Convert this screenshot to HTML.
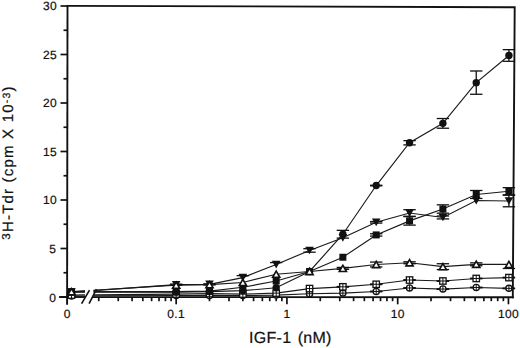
<!DOCTYPE html><html><head><meta charset="utf-8"><style>html,body{margin:0;padding:0;background:#fff;width:520px;height:348px;overflow:hidden}svg{display:block}text{font-family:"Liberation Sans",sans-serif;fill:#111;stroke:#111;stroke-width:0.22px;text-rendering:geometricPrecision}</style></head><body>
<svg width="520" height="348" viewBox="0 0 520 348">
<rect width="520" height="348" fill="#fff"/>
<g stroke="#111" stroke-width="1.9" fill="none" stroke-linecap="square">
<path d="M67.9 5.85 L514.7 7.2 L512.8 297.2"/>
<path d="M67.5 5.85 L67.1 303.7"/>
<path d="M60 297 L84 297"/>
<path d="M93.5 297.1 L512.8 297.2"/>
</g>
<g stroke="#111" stroke-width="1.7">
<line x1="60.5" y1="297.00" x2="67" y2="297.00"/>
<line x1="60.5" y1="248.50" x2="67" y2="248.50"/>
<line x1="60.5" y1="200.00" x2="67" y2="200.00"/>
<line x1="60.5" y1="151.50" x2="67" y2="151.50"/>
<line x1="60.5" y1="103.00" x2="67" y2="103.00"/>
<line x1="60.5" y1="54.50" x2="67" y2="54.50"/>
<line x1="60.5" y1="6.00" x2="67" y2="6.00"/>
<line x1="63.5" y1="272.75" x2="67" y2="272.75"/>
<line x1="63.5" y1="224.25" x2="67" y2="224.25"/>
<line x1="63.5" y1="175.75" x2="67" y2="175.75"/>
<line x1="63.5" y1="127.25" x2="67" y2="127.25"/>
<line x1="63.5" y1="78.75" x2="67" y2="78.75"/>
<line x1="63.5" y1="30.25" x2="67" y2="30.25"/>
<line x1="176.16" y1="297" x2="176.16" y2="304.3"/>
<line x1="286.92" y1="297" x2="286.92" y2="304.3"/>
<line x1="397.68" y1="297" x2="397.68" y2="304.3"/>
<line x1="508.44" y1="297" x2="508.44" y2="304.3"/>
<line x1="98.74" y1="297" x2="98.74" y2="301.2"/>
<line x1="118.25" y1="297" x2="118.25" y2="301.2"/>
<line x1="132.08" y1="297" x2="132.08" y2="301.2"/>
<line x1="142.82" y1="297" x2="142.82" y2="301.2"/>
<line x1="151.59" y1="297" x2="151.59" y2="301.2"/>
<line x1="159.00" y1="297" x2="159.00" y2="301.2"/>
<line x1="165.43" y1="297" x2="165.43" y2="301.2"/>
<line x1="171.09" y1="297" x2="171.09" y2="301.2"/>
<line x1="209.50" y1="297" x2="209.50" y2="301.2"/>
<line x1="229.01" y1="297" x2="229.01" y2="301.2"/>
<line x1="242.84" y1="297" x2="242.84" y2="301.2"/>
<line x1="253.58" y1="297" x2="253.58" y2="301.2"/>
<line x1="262.35" y1="297" x2="262.35" y2="301.2"/>
<line x1="269.76" y1="297" x2="269.76" y2="301.2"/>
<line x1="276.19" y1="297" x2="276.19" y2="301.2"/>
<line x1="281.85" y1="297" x2="281.85" y2="301.2"/>
<line x1="320.26" y1="297" x2="320.26" y2="301.2"/>
<line x1="339.77" y1="297" x2="339.77" y2="301.2"/>
<line x1="353.60" y1="297" x2="353.60" y2="301.2"/>
<line x1="364.34" y1="297" x2="364.34" y2="301.2"/>
<line x1="373.11" y1="297" x2="373.11" y2="301.2"/>
<line x1="380.52" y1="297" x2="380.52" y2="301.2"/>
<line x1="386.95" y1="297" x2="386.95" y2="301.2"/>
<line x1="392.61" y1="297" x2="392.61" y2="301.2"/>
<line x1="431.02" y1="297" x2="431.02" y2="301.2"/>
<line x1="450.53" y1="297" x2="450.53" y2="301.2"/>
<line x1="464.36" y1="297" x2="464.36" y2="301.2"/>
<line x1="475.10" y1="297" x2="475.10" y2="301.2"/>
<line x1="483.87" y1="297" x2="483.87" y2="301.2"/>
<line x1="491.28" y1="297" x2="491.28" y2="301.2"/>
<line x1="497.71" y1="297" x2="497.71" y2="301.2"/>
<line x1="503.37" y1="297" x2="503.37" y2="301.2"/>
</g>
<g stroke="#111" stroke-width="1.6"><line x1="81.6" y1="303.7" x2="89.5" y2="290.2"/><line x1="89.1" y1="303.7" x2="96.5" y2="289.2"/></g>
<g font-size="12" letter-spacing="0.3" text-anchor="end">
<text x="56.3" y="301.60">0</text>
<text x="56.3" y="252.70">5</text>
<text x="57.0" y="204.20">10</text>
<text x="57.0" y="155.70">15</text>
<text x="57.0" y="107.20">20</text>
<text x="57.0" y="58.70">25</text>
<text x="57.0" y="10.20">30</text>
</g>
<g font-size="12" letter-spacing="0.3" text-anchor="middle">
<text x="67.20" y="318.1">0</text>
<text x="176.16" y="318.1">0.1</text>
<text x="286.92" y="318.1">1</text>
<text x="397.68" y="318.1">10</text>
<text x="508.44" y="318.1">100</text>
</g>
<text x="249.0" y="343.2" font-size="16" letter-spacing="0.3" word-spacing="1.5">IGF-1 (nM)</text>
<text transform="translate(12.9 239.7) rotate(-90)" font-size="15" letter-spacing="1.2"><tspan font-size="11.5" dy="-3.2">3</tspan><tspan dy="3.2">H-Tdr (cpm X 10</tspan><tspan font-size="10.5" dy="-3.4">-3</tspan><tspan dy="3.4">)</tspan></text>
<g stroke="#1a1a1a" stroke-width="1.15" fill="none">
<path d="M71.50 292.15 L85 292.15 M93.5 292.15 L176.16 292.15"/>
<path d="M176.16 292.15 L209.50 291.67 L242.84 290.69 L276.19 287.79 L309.53 271.49 L342.87 234.24 L376.21 185.55 L409.55 142.77 L442.90 123.37 L476.24 82.63 L508.92 55.47"/>
<path d="M71.50 291.67 L85 291.67 M93.5 291.67 L176.16 291.67"/>
<path d="M176.16 291.67 L209.50 291.18 L242.84 287.30 L276.19 281.00 L309.53 271.49 L342.87 257.23 L376.21 234.92 L409.55 220.86 L442.90 209.02 L476.24 194.47 L508.92 191.27"/>
<path d="M71.50 292.15 L85 291.19 M93.5 290.58 L176.16 284.68"/>
<path d="M176.16 284.68 L209.50 284.39 L242.84 277.60 L276.19 264.50 L309.53 250.44 L342.87 237.83 L376.21 222.31 L409.55 213.00 L442.90 217.46 L476.24 200.49 L508.92 200.97"/>
<path d="M71.50 291.67 L85 290.83 M93.5 290.30 L176.16 285.17"/>
<path d="M176.16 285.17 L209.50 284.68 L242.84 282.45 L276.19 274.20 L309.53 271.49 L342.87 268.38 L376.21 264.50 L409.55 262.76 L442.90 266.64 L476.24 264.31 L508.92 264.41"/>
<path d="M71.50 295.06 L85 294.93 M93.5 294.86 L176.16 294.09"/>
<path d="M176.16 294.09 L209.50 293.61 L242.84 294.09 L276.19 293.12 L309.53 288.56 L342.87 286.81 L376.21 284.29 L409.55 280.02 L442.90 281.00 L476.24 278.47 L508.92 277.60"/>
<path d="M71.50 296.03 L85 295.97 M93.5 295.93 L176.16 295.55"/>
<path d="M176.16 295.55 L209.50 295.55 L242.84 295.55 L276.19 295.06 L309.53 293.70 L342.87 293.12 L376.21 291.47 L409.55 287.98 L442.90 289.05 L476.24 287.49 L508.92 288.37"/>
</g>
<g stroke="#111" stroke-width="1.3">
<line x1="508.92" y1="49.65" x2="508.92" y2="61.29"/>
<line x1="502.72" y1="49.65" x2="515.12" y2="49.65"/>
<line x1="502.72" y1="61.29" x2="515.12" y2="61.29"/>
<line x1="476.24" y1="70.99" x2="476.24" y2="94.27"/>
<line x1="470.04" y1="70.99" x2="482.44" y2="70.99"/>
<line x1="470.04" y1="94.27" x2="482.44" y2="94.27"/>
<line x1="442.90" y1="118.52" x2="442.90" y2="128.22"/>
<line x1="436.70" y1="118.52" x2="449.10" y2="118.52"/>
<line x1="436.70" y1="128.22" x2="449.10" y2="128.22"/>
<line x1="409.55" y1="140.64" x2="409.55" y2="144.90"/>
<line x1="403.35" y1="140.64" x2="415.75" y2="140.64"/>
<line x1="403.35" y1="144.90" x2="415.75" y2="144.90"/>
<line x1="376.21" y1="185.26" x2="376.21" y2="185.84"/>
<line x1="370.01" y1="185.26" x2="382.41" y2="185.26"/>
<line x1="370.01" y1="185.84" x2="382.41" y2="185.84"/>
<line x1="342.87" y1="230.36" x2="342.87" y2="238.12"/>
<line x1="336.67" y1="230.36" x2="349.07" y2="230.36"/>
<line x1="336.67" y1="238.12" x2="349.07" y2="238.12"/>
<line x1="508.92" y1="187.68" x2="508.92" y2="194.86"/>
<line x1="502.72" y1="187.68" x2="515.12" y2="187.68"/>
<line x1="502.72" y1="194.86" x2="515.12" y2="194.86"/>
<line x1="476.24" y1="190.49" x2="476.24" y2="198.45"/>
<line x1="470.04" y1="190.49" x2="482.44" y2="190.49"/>
<line x1="470.04" y1="198.45" x2="482.44" y2="198.45"/>
<line x1="442.90" y1="204.85" x2="442.90" y2="213.19"/>
<line x1="436.70" y1="204.85" x2="449.10" y2="204.85"/>
<line x1="436.70" y1="213.19" x2="449.10" y2="213.19"/>
<line x1="409.55" y1="216.59" x2="409.55" y2="225.12"/>
<line x1="403.35" y1="216.59" x2="415.75" y2="216.59"/>
<line x1="403.35" y1="225.12" x2="415.75" y2="225.12"/>
<line x1="376.21" y1="233.76" x2="376.21" y2="236.08"/>
<line x1="370.01" y1="233.76" x2="382.41" y2="233.76"/>
<line x1="370.01" y1="236.08" x2="382.41" y2="236.08"/>
<line x1="508.92" y1="195.15" x2="508.92" y2="206.79"/>
<line x1="502.72" y1="195.15" x2="515.12" y2="195.15"/>
<line x1="502.72" y1="206.79" x2="515.12" y2="206.79"/>
<line x1="442.90" y1="216.00" x2="442.90" y2="218.92"/>
<line x1="436.70" y1="216.00" x2="449.10" y2="216.00"/>
<line x1="436.70" y1="218.92" x2="449.10" y2="218.92"/>
<line x1="176.16" y1="284.10" x2="176.16" y2="285.26"/>
<line x1="169.96" y1="284.10" x2="182.36" y2="284.10"/>
<line x1="169.96" y1="285.26" x2="182.36" y2="285.26"/>
<line x1="209.50" y1="283.81" x2="209.50" y2="284.97"/>
<line x1="203.30" y1="283.81" x2="215.70" y2="283.81"/>
<line x1="203.30" y1="284.97" x2="215.70" y2="284.97"/>
<line x1="242.84" y1="275.66" x2="242.84" y2="277.60"/>
<line x1="236.64" y1="275.66" x2="249.04" y2="275.66"/>
<line x1="276.19" y1="262.56" x2="276.19" y2="264.50"/>
<line x1="269.99" y1="262.56" x2="282.39" y2="262.56"/>
<line x1="409.55" y1="209.70" x2="409.55" y2="216.30"/>
<line x1="403.35" y1="209.70" x2="415.75" y2="209.70"/>
<line x1="403.35" y1="216.30" x2="415.75" y2="216.30"/>
<line x1="376.21" y1="221.53" x2="376.21" y2="223.09"/>
<line x1="370.01" y1="221.53" x2="382.41" y2="221.53"/>
<line x1="370.01" y1="223.09" x2="382.41" y2="223.09"/>
<line x1="309.53" y1="248.69" x2="309.53" y2="252.19"/>
<line x1="303.33" y1="248.69" x2="315.73" y2="248.69"/>
<line x1="303.33" y1="252.19" x2="315.73" y2="252.19"/>
<line x1="376.21" y1="262.08" x2="376.21" y2="266.93"/>
<line x1="370.01" y1="262.08" x2="382.41" y2="262.08"/>
<line x1="370.01" y1="266.93" x2="382.41" y2="266.93"/>
<line x1="409.55" y1="261.79" x2="409.55" y2="263.73"/>
<line x1="403.35" y1="261.79" x2="415.75" y2="261.79"/>
<line x1="403.35" y1="263.73" x2="415.75" y2="263.73"/>
<line x1="442.90" y1="263.73" x2="442.90" y2="269.55"/>
<line x1="436.70" y1="263.73" x2="449.10" y2="263.73"/>
<line x1="436.70" y1="269.55" x2="449.10" y2="269.55"/>
<line x1="476.24" y1="262.86" x2="476.24" y2="265.77"/>
<line x1="470.04" y1="262.86" x2="482.44" y2="262.86"/>
<line x1="470.04" y1="265.77" x2="482.44" y2="265.77"/>
<line x1="508.92" y1="264.41" x2="508.92" y2="268.48"/>
<line x1="502.72" y1="268.48" x2="515.12" y2="268.48"/>
<line x1="342.87" y1="267.42" x2="342.87" y2="269.36"/>
<line x1="336.67" y1="267.42" x2="349.07" y2="267.42"/>
<line x1="336.67" y1="269.36" x2="349.07" y2="269.36"/>
<line x1="376.21" y1="284.00" x2="376.21" y2="284.58"/>
<line x1="370.01" y1="284.00" x2="382.41" y2="284.00"/>
<line x1="370.01" y1="284.58" x2="382.41" y2="284.58"/>
<line x1="409.55" y1="279.73" x2="409.55" y2="280.32"/>
<line x1="403.35" y1="279.73" x2="415.75" y2="279.73"/>
<line x1="403.35" y1="280.32" x2="415.75" y2="280.32"/>
<line x1="442.90" y1="280.70" x2="442.90" y2="281.29"/>
<line x1="436.70" y1="280.70" x2="449.10" y2="280.70"/>
<line x1="436.70" y1="281.29" x2="449.10" y2="281.29"/>
<line x1="476.24" y1="278.18" x2="476.24" y2="278.76"/>
<line x1="470.04" y1="278.18" x2="482.44" y2="278.18"/>
<line x1="470.04" y1="278.76" x2="482.44" y2="278.76"/>
<line x1="508.92" y1="277.31" x2="508.92" y2="277.89"/>
<line x1="502.72" y1="277.31" x2="515.12" y2="277.31"/>
<line x1="502.72" y1="277.89" x2="515.12" y2="277.89"/>
<line x1="342.87" y1="286.52" x2="342.87" y2="287.11"/>
<line x1="336.67" y1="286.52" x2="349.07" y2="286.52"/>
<line x1="336.67" y1="287.11" x2="349.07" y2="287.11"/>
<line x1="376.21" y1="291.18" x2="376.21" y2="291.76"/>
<line x1="370.01" y1="291.18" x2="382.41" y2="291.18"/>
<line x1="370.01" y1="291.76" x2="382.41" y2="291.76"/>
<line x1="409.55" y1="287.69" x2="409.55" y2="288.27"/>
<line x1="403.35" y1="287.69" x2="415.75" y2="287.69"/>
<line x1="403.35" y1="288.27" x2="415.75" y2="288.27"/>
<line x1="442.90" y1="288.75" x2="442.90" y2="289.34"/>
<line x1="436.70" y1="288.75" x2="449.10" y2="288.75"/>
<line x1="436.70" y1="289.34" x2="449.10" y2="289.34"/>
<line x1="476.24" y1="287.20" x2="476.24" y2="287.79"/>
<line x1="470.04" y1="287.20" x2="482.44" y2="287.20"/>
<line x1="470.04" y1="287.79" x2="482.44" y2="287.79"/>
<line x1="508.92" y1="288.08" x2="508.92" y2="288.66"/>
<line x1="502.72" y1="288.08" x2="515.12" y2="288.08"/>
<line x1="502.72" y1="288.66" x2="515.12" y2="288.66"/>
</g>
<circle cx="71.50" cy="296.03" r="3.1" fill="#fff" stroke="#111" stroke-width="1.3"/><path d="M71.50 292.93V299.13M68.40 296.03H74.60" stroke="#111" stroke-width="1"/>
<circle cx="176.16" cy="295.55" r="3.1" fill="#fff" stroke="#111" stroke-width="1.3"/><path d="M176.16 292.44V298.65M173.06 295.55H179.26" stroke="#111" stroke-width="1"/>
<circle cx="209.50" cy="295.55" r="3.1" fill="#fff" stroke="#111" stroke-width="1.3"/><path d="M209.50 292.44V298.65M206.40 295.55H212.60" stroke="#111" stroke-width="1"/>
<circle cx="242.84" cy="295.55" r="3.1" fill="#fff" stroke="#111" stroke-width="1.3"/><path d="M242.84 292.44V298.65M239.74 295.55H245.94" stroke="#111" stroke-width="1"/>
<circle cx="276.19" cy="295.06" r="3.1" fill="#fff" stroke="#111" stroke-width="1.3"/><path d="M276.19 291.96V298.16M273.09 295.06H279.29" stroke="#111" stroke-width="1"/>
<circle cx="309.53" cy="293.70" r="3.1" fill="#fff" stroke="#111" stroke-width="1.3"/><path d="M309.53 290.60V296.80M306.43 293.70H312.63" stroke="#111" stroke-width="1"/>
<circle cx="342.87" cy="293.12" r="3.1" fill="#fff" stroke="#111" stroke-width="1.3"/><path d="M342.87 290.02V296.22M339.77 293.12H345.97" stroke="#111" stroke-width="1"/>
<circle cx="376.21" cy="291.47" r="3.1" fill="#fff" stroke="#111" stroke-width="1.3"/><path d="M376.21 288.37V294.57M373.11 291.47H379.31" stroke="#111" stroke-width="1"/>
<circle cx="409.55" cy="287.98" r="3.1" fill="#fff" stroke="#111" stroke-width="1.3"/><path d="M409.55 284.88V291.08M406.45 287.98H412.65" stroke="#111" stroke-width="1"/>
<circle cx="442.90" cy="289.05" r="3.1" fill="#fff" stroke="#111" stroke-width="1.3"/><path d="M442.90 285.95V292.15M439.80 289.05H446.00" stroke="#111" stroke-width="1"/>
<circle cx="476.24" cy="287.49" r="3.1" fill="#fff" stroke="#111" stroke-width="1.3"/><path d="M476.24 284.39V290.59M473.14 287.49H479.34" stroke="#111" stroke-width="1"/>
<circle cx="508.92" cy="288.37" r="3.1" fill="#fff" stroke="#111" stroke-width="1.3"/><path d="M508.92 285.27V291.47M505.82 288.37H512.02" stroke="#111" stroke-width="1"/>
<rect x="68.30" y="291.86" width="6.4" height="6.4" fill="#fff" stroke="#111" stroke-width="1.3"/><path d="M71.50 291.86V298.26M68.30 295.06H74.70" stroke="#111" stroke-width="1"/>
<rect x="172.96" y="290.89" width="6.4" height="6.4" fill="#fff" stroke="#111" stroke-width="1.3"/><path d="M176.16 290.89V297.29M172.96 294.09H179.36" stroke="#111" stroke-width="1"/>
<rect x="206.30" y="290.41" width="6.4" height="6.4" fill="#fff" stroke="#111" stroke-width="1.3"/><path d="M209.50 290.41V296.81M206.30 293.61H212.70" stroke="#111" stroke-width="1"/>
<rect x="239.64" y="290.89" width="6.4" height="6.4" fill="#fff" stroke="#111" stroke-width="1.3"/><path d="M242.84 290.89V297.29M239.64 294.09H246.04" stroke="#111" stroke-width="1"/>
<rect x="272.99" y="289.92" width="6.4" height="6.4" fill="#fff" stroke="#111" stroke-width="1.3"/><path d="M276.19 289.92V296.32M272.99 293.12H279.39" stroke="#111" stroke-width="1"/>
<rect x="306.33" y="285.36" width="6.4" height="6.4" fill="#fff" stroke="#111" stroke-width="1.3"/><path d="M309.53 285.36V291.76M306.33 288.56H312.73" stroke="#111" stroke-width="1"/>
<rect x="339.67" y="283.62" width="6.4" height="6.4" fill="#fff" stroke="#111" stroke-width="1.3"/><path d="M342.87 283.62V290.01M339.67 286.81H346.07" stroke="#111" stroke-width="1"/>
<rect x="373.01" y="281.09" width="6.4" height="6.4" fill="#fff" stroke="#111" stroke-width="1.3"/><path d="M376.21 281.09V287.49M373.01 284.29H379.41" stroke="#111" stroke-width="1"/>
<rect x="406.35" y="276.82" width="6.4" height="6.4" fill="#fff" stroke="#111" stroke-width="1.3"/><path d="M409.55 276.82V283.22M406.35 280.02H412.75" stroke="#111" stroke-width="1"/>
<rect x="439.70" y="277.80" width="6.4" height="6.4" fill="#fff" stroke="#111" stroke-width="1.3"/><path d="M442.90 277.80V284.19M439.70 281.00H446.10" stroke="#111" stroke-width="1"/>
<rect x="473.04" y="275.27" width="6.4" height="6.4" fill="#fff" stroke="#111" stroke-width="1.3"/><path d="M476.24 275.27V281.67M473.04 278.47H479.44" stroke="#111" stroke-width="1"/>
<rect x="505.72" y="274.40" width="6.4" height="6.4" fill="#fff" stroke="#111" stroke-width="1.3"/><path d="M508.92 274.40V280.80M505.72 277.60H512.12" stroke="#111" stroke-width="1"/>
<circle cx="71.50" cy="292.15" r="3.7" fill="#111"/>
<circle cx="176.16" cy="292.15" r="3.7" fill="#111"/>
<circle cx="209.50" cy="291.67" r="3.7" fill="#111"/>
<circle cx="242.84" cy="290.69" r="3.7" fill="#111"/>
<circle cx="276.19" cy="287.79" r="3.7" fill="#111"/>
<circle cx="309.53" cy="271.49" r="3.7" fill="#111"/>
<circle cx="342.87" cy="234.24" r="3.7" fill="#111"/>
<circle cx="376.21" cy="185.55" r="3.7" fill="#111"/>
<circle cx="409.55" cy="142.77" r="3.7" fill="#111"/>
<circle cx="442.90" cy="123.37" r="3.7" fill="#111"/>
<circle cx="476.24" cy="82.63" r="3.7" fill="#111"/>
<circle cx="508.92" cy="55.47" r="3.7" fill="#111"/>
<rect x="68.00" y="288.17" width="7" height="7" fill="#111"/>
<rect x="172.66" y="288.17" width="7" height="7" fill="#111"/>
<rect x="206.00" y="287.68" width="7" height="7" fill="#111"/>
<rect x="239.34" y="283.80" width="7" height="7" fill="#111"/>
<rect x="272.69" y="277.50" width="7" height="7" fill="#111"/>
<rect x="306.03" y="267.99" width="7" height="7" fill="#111"/>
<rect x="339.37" y="253.73" width="7" height="7" fill="#111"/>
<rect x="372.71" y="231.42" width="7" height="7" fill="#111"/>
<rect x="406.05" y="217.36" width="7" height="7" fill="#111"/>
<rect x="439.40" y="205.52" width="7" height="7" fill="#111"/>
<rect x="472.74" y="190.97" width="7" height="7" fill="#111"/>
<rect x="505.42" y="187.77" width="7" height="7" fill="#111"/>
<path d="M67.20 288.35 L75.80 288.35 L71.50 296.05Z" fill="#111"/>
<path d="M171.86 280.88 L180.46 280.88 L176.16 288.58Z" fill="#111"/>
<path d="M205.20 280.59 L213.80 280.59 L209.50 288.29Z" fill="#111"/>
<path d="M238.54 273.80 L247.14 273.80 L242.84 281.50Z" fill="#111"/>
<path d="M271.89 260.70 L280.49 260.70 L276.19 268.40Z" fill="#111"/>
<path d="M305.23 246.64 L313.83 246.64 L309.53 254.34Z" fill="#111"/>
<path d="M338.57 234.03 L347.17 234.03 L342.87 241.73Z" fill="#111"/>
<path d="M371.91 218.51 L380.51 218.51 L376.21 226.21Z" fill="#111"/>
<path d="M405.25 209.20 L413.85 209.20 L409.55 216.90Z" fill="#111"/>
<path d="M438.60 213.66 L447.20 213.66 L442.90 221.36Z" fill="#111"/>
<path d="M471.94 196.69 L480.54 196.69 L476.24 204.39Z" fill="#111"/>
<path d="M504.62 197.17 L513.22 197.17 L508.92 204.87Z" fill="#111"/>
<path d="M67.90 294.77 L75.10 294.77 L71.50 288.56Z" fill="#fff" stroke="#111" stroke-width="1.6" stroke-linejoin="miter"/>
<path d="M172.56 288.27 L179.76 288.27 L176.16 282.07Z" fill="#fff" stroke="#111" stroke-width="1.6" stroke-linejoin="miter"/>
<path d="M205.90 287.78 L213.10 287.78 L209.50 281.58Z" fill="#fff" stroke="#111" stroke-width="1.6" stroke-linejoin="miter"/>
<path d="M239.24 285.55 L246.44 285.55 L242.84 279.35Z" fill="#fff" stroke="#111" stroke-width="1.6" stroke-linejoin="miter"/>
<path d="M272.59 277.31 L279.79 277.31 L276.19 271.10Z" fill="#fff" stroke="#111" stroke-width="1.6" stroke-linejoin="miter"/>
<path d="M305.93 274.59 L313.13 274.59 L309.53 268.39Z" fill="#fff" stroke="#111" stroke-width="1.6" stroke-linejoin="miter"/>
<path d="M339.27 271.49 L346.47 271.49 L342.87 265.28Z" fill="#fff" stroke="#111" stroke-width="1.6" stroke-linejoin="miter"/>
<path d="M372.61 267.61 L379.81 267.61 L376.21 261.40Z" fill="#fff" stroke="#111" stroke-width="1.6" stroke-linejoin="miter"/>
<path d="M405.95 265.86 L413.15 265.86 L409.55 259.66Z" fill="#fff" stroke="#111" stroke-width="1.6" stroke-linejoin="miter"/>
<path d="M439.30 269.74 L446.50 269.74 L442.90 263.54Z" fill="#fff" stroke="#111" stroke-width="1.6" stroke-linejoin="miter"/>
<path d="M472.64 267.41 L479.84 267.41 L476.24 261.21Z" fill="#fff" stroke="#111" stroke-width="1.6" stroke-linejoin="miter"/>
<path d="M505.32 267.51 L512.52 267.51 L508.92 261.31Z" fill="#fff" stroke="#111" stroke-width="1.6" stroke-linejoin="miter"/>
</svg></body></html>
